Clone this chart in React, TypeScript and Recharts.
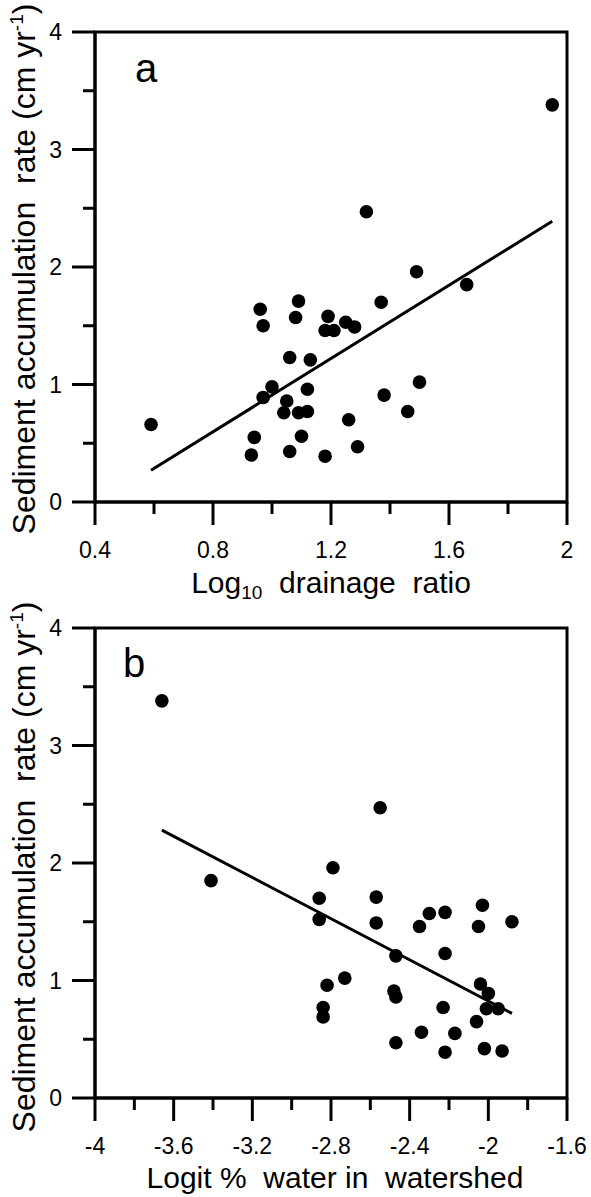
import { ScatterChart, Scatter, XAxis, YAxis, ReferenceArea, ReferenceLine } from "recharts";

const FONT = '"Liberation Sans", Arial, sans-serif'

// panel a: log10 drainage ratio vs sediment accumulation rate
const drainageX = [1.95, 1.32, 1.49, 1.66, 0.96, 1.09, 0.97, 1.08, 1.19, 1.18, 1.21, 1.25, 1.28, 1.37, 1.06, 1.13, 1.0, 0.97, 1.12, 1.5, 1.38, 1.05, 1.04, 1.09, 1.12, 1.46, 1.26, 0.59, 0.94, 1.1, 1.29, 0.93, 1.06, 1.18]
const rateA = [3.38, 2.47, 1.96, 1.85, 1.64, 1.71, 1.5, 1.57, 1.58, 1.46, 1.46, 1.53, 1.49, 1.7, 1.23, 1.21, 0.98, 0.89, 0.96, 1.02, 0.91, 0.86, 0.76, 0.76, 0.77, 0.77, 0.7, 0.66, 0.55, 0.56, 0.47, 0.4, 0.43, 0.39]
const fitA = [{ x: 0.59, y: 0.27 }, { x: 1.95, y: 2.39 }]

// panel b: logit % water in watershed vs sediment accumulation rate
const waterX = [-3.66, -2.55, -2.79, -3.41, -2.86, -2.57, -2.86, -2.57, -2.3, -2.22, -2.35, -2.03, -2.05, -1.88, -2.47, -2.22, -2.82, -2.73, -2.48, -2.47, -2.04, -2.0, -2.84, -2.84, -2.23, -2.01, -1.95, -2.06, -2.34, -2.17, -2.47, -2.22, -2.02, -1.93]
const rateB = [3.38, 2.47, 1.96, 1.85, 1.7, 1.71, 1.52, 1.49, 1.57, 1.58, 1.46, 1.64, 1.46, 1.5, 1.21, 1.23, 0.96, 1.02, 0.91, 0.86, 0.97, 0.89, 0.77, 0.69, 0.77, 0.76, 0.76, 0.65, 0.56, 0.55, 0.47, 0.39, 0.42, 0.4]
const fitB = [{ x: -3.66, y: 2.28 }, { x: -1.88, y: 0.72 }]

const yTicks = [0, 0.5, 1, 1.5, 2, 2.5, 3, 3.5, 4]
const yMajor = [0, 1, 2, 3, 4]
const xTicksA = [0.4, 0.6, 0.8, 1.0, 1.2, 1.4, 1.6, 1.8, 2.0]
const xMajorA = [0.4, 0.8, 1.2, 1.6, 2]
const xTicksB = [-4, -3.8, -3.6, -3.4, -3.2, -3.0, -2.8, -2.6, -2.4, -2.2, -2, -1.8, -1.6]
const xMajorB = [-4, -3.6, -3.2, -2.8, -2.4, -2, -1.6]

const isIn = (list: number[], v: number) => list.some(m => Math.abs(m - v) < 1e-6)
const fmt = (v: number) => String(Math.round(v * 10) / 10)

function XTick({ x, y, payload, major }: any) {
    const big = isIn(major, payload.value)
    return (
        <g>
            <line x1={x} y1={y} x2={x} y2={y + (big ? 23 : 12)} stroke="#000" strokeWidth={3} />
            {big && (
                <text x={x} y={y + 56} textAnchor="middle" fontSize={23} fontFamily={FONT} fill="#000">
                    {fmt(payload.value)}
                </text>
            )}
        </g>
    )
}

function YTick({ x, y, payload }: any) {
    const big = isIn(yMajor, payload.value)
    return (
        <g>
            <line x1={x} y1={y} x2={x - (big ? 23 : 12)} y2={y} stroke="#000" strokeWidth={3} />
            {big && (
                <text x={x - 33} y={y + 8} textAnchor="end" fontSize={23} fontFamily={FONT} fill="#000">
                    {fmt(payload.value)}
                </text>
            )}
        </g>
    )
}

const Dot = (p: any) => <circle cx={p.cx} cy={p.cy} r={6.8} fill="#000" />

const yTitle = (shift: number) => ({ viewBox }: any) => {
    const cx = viewBox.x + 35
    const cy = viewBox.y + viewBox.height / 2 + shift
    return (
        <text x={cx} y={cy} transform={`rotate(-90, ${cx}, ${cy})`} textAnchor="middle" fontSize={32}
            fontFamily={FONT} fill="#000" style={{ whiteSpace: "pre" }}>
            Sediment accumulation  rate (cm yr<tspan fontSize={19} dy={-12}>-1</tspan><tspan dy={12}>)</tspan>
        </text>
    )
}

interface PanelProps {
    xs: number[]
    ys: number[]
    fit: { x: number; y: number }[]
    domain: [number, number]
    ticks: number[]
    major: number[]
    height: number
    top: number
    axisHeight: number
    letter: string
    letterDx: number
    letterDy: number
    titleShift: number
    title: (vb: any) => any
}

function Panel({ xs, ys, fit, domain, ticks, major, height, top, axisHeight, letter, letterDx, letterDy, titleShift, title }: PanelProps) {
    const data = xs.map((x, i) => ({ x, y: ys[i] }))
    return (
        <ScatterChart width={591} height={height} margin={{ top, right: 24, left: 0, bottom: 0 }}>
            <XAxis type="number" dataKey="x" domain={domain} ticks={ticks} interval={0} allowDataOverflow
                height={axisHeight} tickSize={0} tickMargin={0} axisLine={{ stroke: "#000", strokeWidth: 3 }}
                tickLine={false} tick={(p: any) => <XTick {...p} major={major} />}
                label={(p: any) => title(p.viewBox)} />
            <YAxis type="number" dataKey="y" domain={[0, 4]} ticks={yTicks} interval={0} allowDataOverflow
                width={95} tickSize={0} tickMargin={0} axisLine={{ stroke: "#000", strokeWidth: 3 }}
                tickLine={false} tick={(p: any) => <YTick {...p} />} label={yTitle(titleShift)} />
            <ReferenceArea x1={domain[0]} x2={domain[1]} y1={0} y2={4} fill="none" fillOpacity={0}
                stroke="#000" strokeWidth={3}
                label={({ viewBox }: any) => (
                    <text x={viewBox.x + letterDx} y={viewBox.y + letterDy} fontSize={40} fontFamily={FONT} fill="#000">
                        {letter}
                    </text>
                )} />
            <ReferenceLine segment={fit} stroke="#000" strokeWidth={3} />
            <Scatter data={data} shape={Dot} isAnimationActive={false} />
        </ScatterChart>
    )
}

const titleA = (vb: any) => (
    <text x={vb.x + vb.width / 2} y={vb.y + 91} textAnchor="middle" fontSize={30} fontFamily={FONT} fill="#000"
        style={{ whiteSpace: "pre" }}>
        Log<tspan fontSize={19} dy={6}>10</tspan><tspan dy={-6}>  drainage  ratio</tspan>
    </text>
)

const titleB = (vb: any) => (
    <text x={vb.x + vb.width / 2 + 4} y={vb.y + 90} textAnchor="middle" fontSize={30} fontFamily={FONT} fill="#000"
        style={{ whiteSpace: "pre" }}>
        Logit %  water in  watershed
    </text>
)

export default function App() {
    return (
        <div style={{ position: "absolute", left: 0, top: 0, width: 591, height: 1197, background: "#fff" }}>
            <Panel xs={drainageX} ys={rateA} fit={fitA} domain={[0.4, 2]} ticks={xTicksA} major={xMajorA}
                height={602} top={32} axisHeight={100} letter="a" letterDx={40} letterDy={50} titleShift={2}
                title={titleA} />
            <Panel xs={waterX} ys={rateB} fit={fitB} domain={[-4, -1.6]} ticks={xTicksB} major={xMajorB}
                height={595} top={26} axisHeight={99} letter="b" letterDx={28} letterDy={49} titleShift={4}
                title={titleB} />
        </div>
    )
}
